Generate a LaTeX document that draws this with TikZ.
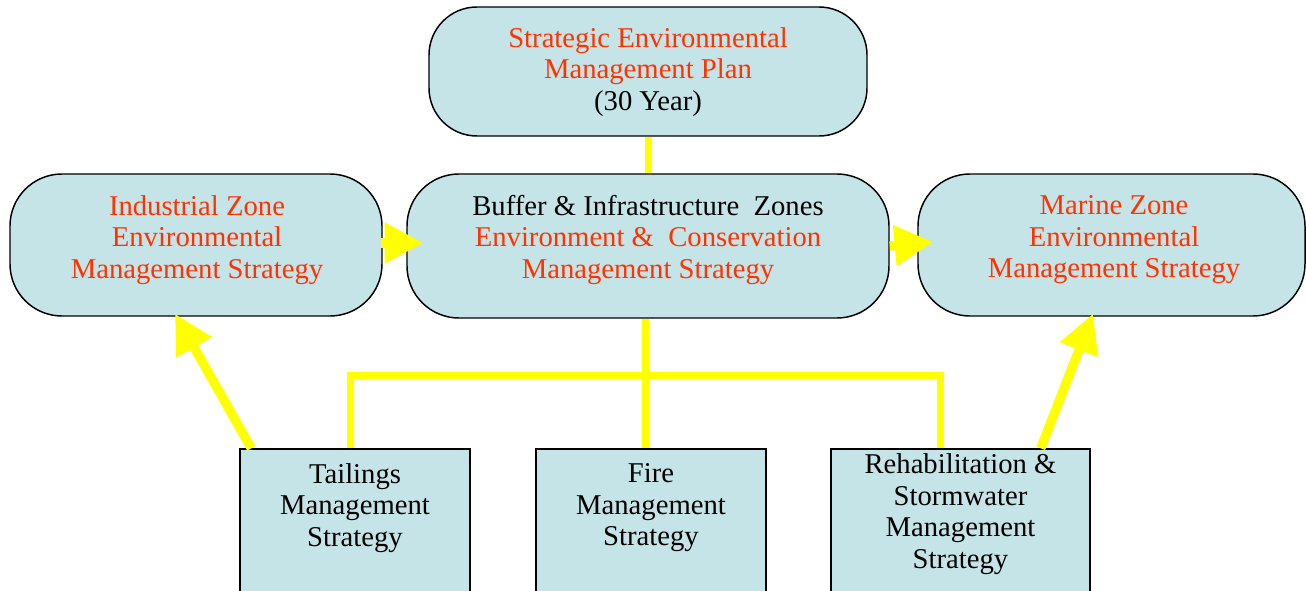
\documentclass[tikz,border=0pt]{standalone}
\usepackage{fontspec}
\setmainfont{Liberation Serif}
\usetikzlibrary{arrows.meta,calc}
\definecolor{boxfill}{RGB}{197,228,232}
\definecolor{planred}{RGB}{255,51,0}
\definecolor{linkyellow}{RGB}{255,255,0}
\tikzset{
  zonebox/.style={draw=black, line width=1.1pt, fill=boxfill, rounded corners=39pt, inner sep=0pt},
  stratbox/.style={draw=black, line width=1.1pt, fill=boxfill, inner sep=0pt, minimum width=172.5pt, minimum height=128.25pt},
  label/.style={align=center, inner sep=0pt, font=\fontsize{21.5}{23.6}\selectfont},
  link/.style={draw=linkyellow, line width=5.25pt},
  bigarrow/.style={draw=linkyellow, fill=linkyellow, line width=7pt,
    -{Triangle[length=29pt,width=29pt]}}
}
\begin{document}
\begin{tikzpicture}[x=0.75pt, y=-0.75pt]
\clip (0,0) rectangle (1306,591);
\fill[white] (0,0) rectangle (1306,591);

% plan and zone boxes
\node[zonebox, rounded corners=36pt, minimum width=328.5pt, minimum height=96.75pt] (top) at (648,71.5) {};
\node[zonebox, minimum width=279pt, minimum height=106.5pt] (industrial) at (196,245) {};
\node[zonebox, minimum width=361.5pt, minimum height=108pt] (buffer) at (648,246) {};
\node[zonebox, minimum width=290.25pt, minimum height=106.5pt] (marine) at (1111.5,245) {};

% strategy boxes (run off the lower edge)
\node[stratbox] (tailings) at (355,534.5) {};
\node[stratbox] (fire) at (651,534.5) {};
\node[stratbox, minimum width=194.25pt] (rehab) at (960.5,534.5) {};

% texts
\node[label] (topT) at (648,72) {\textcolor{planred}{Strategic Environmental}\\\textcolor{planred}{Management Plan}\\(30 Year)};
\node[label, text=planred] (industrialT) at (197,240) {Industrial Zone\\Environmental\\Management Strategy};
\node[label] (bufferT) at (648,240) {Buffer \& Infrastructure~ Zones\\\textcolor{planred}{Environment \&~ Conservation}\\\textcolor{planred}{Management Strategy}};
\node[label, text=planred] (marineT) at (1114,240) {Marine Zone\\Environmental\\Management Strategy};
\node[label] (tailingsT) at (355,508) {Tailings\\Management\\Strategy};
\node[label] (fireT) at (651,508) {Fire\\Management\\Strategy};
\node[label] (rehabT) at (960.5,514) {Rehabilitation \&\\Stormwater\\Management\\Strategy};

% yellow links
\draw[link] (top.south) -- (buffer.north);
\draw[link] ($(buffer.south)+(-3,0)$) -- ($(fire.north)+(-6,0)$);
\draw[link] ($(tailings.north)+(-5,0)$) |- ($(rehab.north)+(-20.5,-73)$) -- ($(rehab.north)+(-20.5,0)$);

% yellow arrows
\draw[bigarrow] ($(industrial.east)+(-2,-2)$) -- ($(buffer.west)+(17,-3)$);
\draw[bigarrow] (buffer.east) -- ($(marine.west)+(16,-3)$);
\draw[bigarrow] ($(tailings.north west)+(12,0)$) -- ($(industrial.south)+(-21,-3)$);
\draw[bigarrow] ($(rehab.north east)+(-50,0)$) -- ($(marine.south)+(-18.5,-3)$);
\end{tikzpicture}
\end{document}
